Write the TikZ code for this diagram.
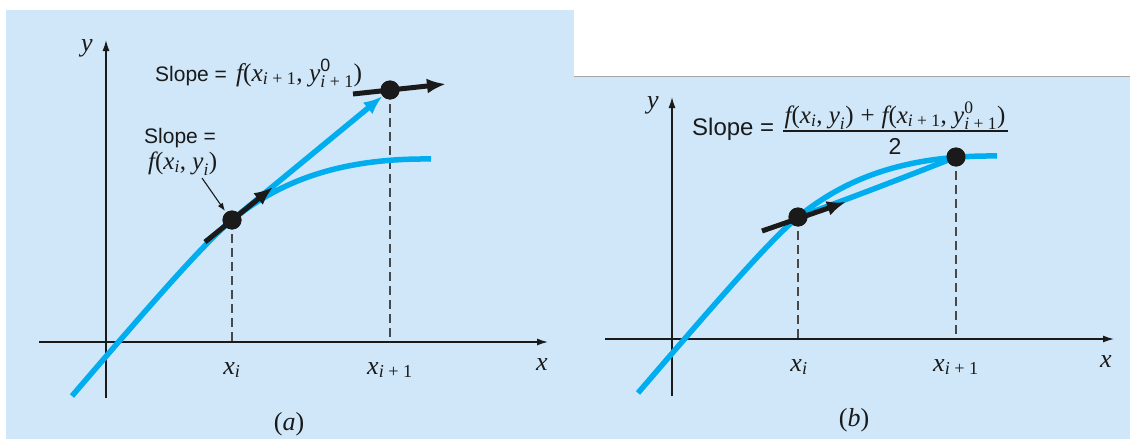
\documentclass[tikz,border=0pt]{standalone}
\usepackage{fontspec}
\usepackage{amsmath}
\setmainfont{Liberation Serif}
\setsansfont{Liberation Sans}
\usetikzlibrary{arrows.meta}
\definecolor{bg}{HTML}{CFE7F8}
\definecolor{curveblue}{HTML}{00AEEF}
\definecolor{ink}{HTML}{1A1A1A}
\newcommand{\mv}[1]{\text{\rmfamily\itshape #1}}
\newcommand{\mt}[1]{\text{\rmfamily\upshape #1}}
\newcommand{\ipo}{\mv{i}\mt{\ + 1}}
\newcommand{\mfs}[1]{\fontsize{#1}{#1}\selectfont}
\begin{document}
\begin{tikzpicture}[x=1pt,y=-1pt,
  axis/.style={line width=1.4pt, draw=ink, -{Latex[length=11pt,width=7pt]}},
  guide/.style={line width=1.5pt, draw=ink!80, dash pattern=on 9pt off 5pt},
  bluecurve/.style={line width=5.5pt, draw=curveblue},
  bluearrow/.style={line width=5.5pt, draw=curveblue, fill=curveblue, -{Latex[length=19pt,width=15pt]}},
  blackarrow/.style={line width=5pt, draw=ink, fill=ink, -{Latex[length=19pt,width=15pt]}},
  pointer/.style={line width=1.1pt, draw=ink, -{Latex[length=8pt,width=6pt]}},
  dot/.style={circle, fill=ink, inner sep=0pt, minimum size=19pt},
  lab/.style={font=\fontsize{26}{30}\selectfont\itshape, text=ink, inner sep=0pt},
  slope/.style={font=\sffamily\fontsize{21}{25}\selectfont, text=ink, inner sep=0pt},
]
\useasboundingbox (0,0) rectangle (1130,439);
\fill[bg] (6,10) rectangle (574,439);
\fill[bg] (574,76) rectangle (1130,439);
\draw[gray!70, line width=1pt] (574,76) -- (1130,76);

% ---------------- panel (a)
\coordinate (axa0) at (39,342);
\coordinate (axa1) at (548,342);
\coordinate (aya0) at (106,398);
\coordinate (aya1) at (106,40);
\draw[axis] (axa0) -- (axa1);
\draw[axis] (aya0) -- (aya1);

\node[dot] (pa) at (232,220) {};
\node[dot] (qa) at (390,90) {};
\coordinate (fa) at (232,342);
\coordinate (ga) at (390,342);
\draw[guide] (pa.center) -- (fa);
\draw[guide] (qa.center) -- (ga);

\coordinate (ca0) at (72,396);
\coordinate (ca1) at (431,159);
\draw[bluecurve] (ca0) .. controls (150,305) and (205,242) .. (pa.center)
  .. controls (280,181) and (340,158) .. (ca1);
\draw[bluearrow] (pa.center) -- (qa);

\coordinate (ba0) at (205,242);
\coordinate (ba1) at (273,187);
\draw[blackarrow] (ba0) -- (ba1);
\coordinate (bb0) at (353,94);
\coordinate (bb1) at (446,84);
\draw[blackarrow] (bb0) -- (bb1);
\node[dot] at (pa) {};
\node[dot] at (qa) {};

\node[lab] (ya) at (87,48) {y};
\node[lab] (xa) at (542,365) {x};
\node[lab] (xia) at (232,370) {$\mv{x}_{\mv{i}}$};
\node[lab] (xja) at (390,370) {$\mv{x}_{\ipo}$};
\node[lab] (capa) at (289,424) {\upshape(\textit{a})};

\node[slope, anchor=base west] (sa1) at (155,81)
  {Slope =\hspace{9pt}{\mfs{25.5}$\mv{f}\mt{(}\mv{x}_{\ipo}\mt{,\ }\mv{y}^{\text{\sffamily 0}}_{\ipo}\mt{)}$}};
\node[slope, anchor=base west] (sa2) at (144,143) {Slope =};
\node[slope, anchor=base west] (sa3) at (148,169)
  {\mfs{25}$\mv{f}\mt{(}\mv{x}_{\mv{i}}\mt{,\ }\mv{y}_{\mv{i}}\mt{)}$};
\coordinate (pta0) at (202,178);
\coordinate (pta1) at (225,211);
\draw[pointer] (pta0) -- (pta1);

% ---------------- panel (b)
\coordinate (axb0) at (605,339);
\coordinate (axb1) at (1114,339);
\coordinate (ayb0) at (672,396);
\coordinate (ayb1) at (672,97);
\draw[axis] (axb0) -- (axb1);
\draw[axis] (ayb0) -- (ayb1);

\node[dot] (pb) at (798,217) {};
\node[dot] (qb) at (956,157) {};
\coordinate (fb) at (798,339);
\coordinate (gb) at (956,339);
\draw[guide] (pb.center) -- (fb);
\draw[guide] (qb.center) -- (gb);

\coordinate (cb0) at (638,393);
\coordinate (cb1) at (997,156);
\draw[bluecurve] (cb0) .. controls (716,302) and (771,239) .. (pb.center)
  .. controls (846,178) and (906,155) .. (cb1);
\draw[bluecurve] (pb.center) .. controls (870,191) and (920,171) .. (qb.center);

\coordinate (bc0) at (762,231);
\coordinate (bc1) at (846,202);
\draw[blackarrow] (bc0) -- (bc1);
\node[dot] at (pb) {};
\node[dot] at (qb) {};

\node[lab] (yb) at (653,105) {y};
\node[lab] (xb) at (1106,362) {x};
\node[lab] (xib) at (799,367) {$\mv{x}_{\mv{i}}$};
\node[lab] (xjb) at (956,367) {$\mv{x}_{\ipo}$};
\node[lab] (capb) at (854,420) {\upshape(\textit{b})};

\node[slope, font=\sffamily\fontsize{24}{28}\selectfont, anchor=base west] (sb1) at (692,135) {Slope =};
\node[slope, anchor=base] (sbn) at (895,123)
  {\mfs{25}$\mv{f}\mt{(}\mv{x}_{\mv{i}}\mt{,\ }\mv{y}_{\mv{i}}\mt{)}\;\mt{+}\;\mv{f}\mt{(}\mv{x}_{\ipo}\mt{,\ }\mv{y}^{\mt{0}}_{\ipo}\mt{)}$};
\coordinate (fr0) at (783,131);
\coordinate (fr1) at (1008,131);
\draw[line width=1.8pt, draw=ink] (fr0) -- (fr1);
\node[slope, font=\sffamily\fontsize{23}{28}\selectfont, anchor=base] (sbd) at (895,154) {2};
\end{tikzpicture}
\end{document}
